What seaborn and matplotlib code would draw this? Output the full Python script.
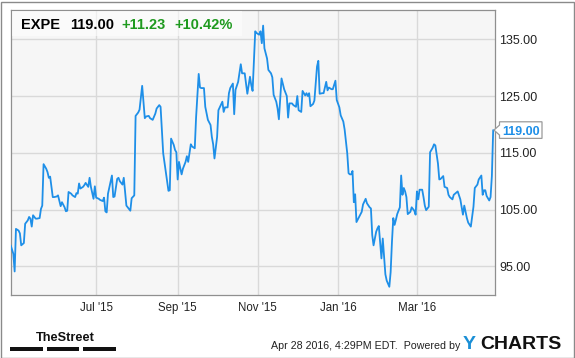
import matplotlib
matplotlib.use("Agg")
import matplotlib.pyplot as plt
import matplotlib.dates as mdates
from matplotlib.patches import Rectangle, Polygon
from matplotlib.transforms import IdentityTransform
import numpy as np
import pandas as pd
import seaborn as sns

# ---------------- data ----------------
ticker = "EXPE"
last_price_text = "119.00"
change_text = "+11.23"
change_pct_text = "+10.42%"
start_date = "2015-04-27"

day_offsets = [
    0, 2, 3, 4, 6, 7, 8, 10, 11, 13, 14, 15, 16, 17, 19, 20, 22, 23, 24, 25,
    27, 28, 29, 30, 32, 33, 35, 36, 38, 39, 41, 42, 43, 44, 46, 47, 49, 50, 51, 52,
    53, 55, 56, 57, 59, 60, 61, 63, 64, 65, 67, 68, 70, 71, 72, 73, 74, 76, 77, 78,
    79, 81, 82, 83, 85, 86, 88, 90, 91,
    92, 94, 95, 97, 98, 100, 102, 103, 105, 106, 108, 110, 111, 113, 114, 116, 118, 120, 121, 122,
    124, 125, 126, 127, 128, 130, 131, 133, 134, 135, 137, 138, 140, 141, 143, 144, 145, 147, 148, 150,
    152, 153, 154, 155, 157, 158, 159, 161, 162, 163, 165, 166, 167, 169, 170, 171, 173, 175, 176, 178,
    180, 181,
    182, 183, 184, 186, 187, 189, 190, 191, 192, 193, 195, 196, 198, 199, 200, 202, 203, 204, 205, 206,
    208, 209, 210, 211, 212, 214, 215, 217, 218, 219, 221, 222, 223, 224, 225, 226, 227, 228, 230, 231,
    233, 234, 235, 237, 238, 240, 241, 242, 244, 245, 247, 248, 250, 251, 253, 254, 256, 257, 258, 259,
    260, 261, 262, 263, 265, 267, 268, 270, 271, 273,
    274, 275, 276, 278, 279, 280, 281, 282, 283, 285, 286, 288, 289, 290, 291, 292, 293, 294, 296, 297,
    298, 299, 300, 301, 302, 304, 305, 307, 308, 309, 310, 311, 313, 314, 315, 316, 318, 319, 321, 322,
    323, 325, 326, 327, 329, 330, 332, 333, 334, 336, 337, 339, 340, 342, 343, 344, 345, 347, 348, 350,
    352, 353, 355, 356, 358, 359, 360, 361, 362, 363, 364, 365, 366, 367,
]

prices = [
    98.7, 97.2, 94.1, 101.6, 101.3, 100.8, 98.7, 99.1, 102.5, 103.1, 103.7, 103.4, 102.0, 104.0, 103.4,
    103.4, 103.5, 105.1, 105.7, 113.0, 112.2, 111.6, 110.6, 110.8, 107.2, 107.2, 107.3, 107.5, 105.6, 106.3,
    105.4, 104.7, 104.8, 108.1, 107.8, 107.5, 107.2, 107.9, 107.8, 109.6, 108.7, 109.0, 109.3, 109.7, 109.0,
    110.6, 109.0, 106.9, 109.1, 107.1, 106.9, 106.7, 106.5, 107.1, 104.7, 104.5, 107.8, 109.9, 111.0, 107.2,
    107.3, 110.4, 110.6, 110.0, 109.4, 110.6, 105.7, 105.1, 104.8,
    107.0, 107.5, 121.5, 122.1, 122.6, 126.8, 121.1, 121.4, 121.5, 121.1, 120.8, 121.9, 122.8, 123.4, 123.1,
    114.9, 111.6, 108.3, 108.4, 117.5, 116.4, 115.5, 115.1, 110.3, 113.4, 111.2, 112.2, 113.4, 114.4, 113.4,
    116.5, 116.1, 115.8, 121.2, 128.9, 126.5, 126.4, 126.4, 123.1, 120.8, 119.9, 117.8, 116.5, 114.0, 117.8,
    122.5, 123.0, 124.0, 122.2, 123.0, 123.0, 125.5, 126.4, 127.2, 121.8, 126.1, 127.5, 130.6, 129.0, 129.0,
    125.4, 126.9,
    128.4, 126.9, 125.9, 136.4, 136.1, 135.8, 136.4, 134.3, 137.4, 133.4, 131.6, 129.6, 129.0, 128.3, 125.2,
    124.0, 122.8, 120.9, 124.6, 128.1, 126.2, 125.6, 125.0, 121.2, 123.7, 123.7, 123.4, 123.1, 125.0, 122.5,
    122.2, 125.9, 125.5, 125.1, 125.5, 125.0, 125.5, 123.2, 123.6, 124.2, 130.2, 131.2, 125.4, 125.5, 125.5,
    127.5, 126.0, 126.5, 126.2, 126.2, 127.7, 124.3, 123.0, 121.6, 120.5, 119.1, 114.9, 111.4, 111.2, 111.2,
    111.8, 106.3, 107.7, 102.8, 103.7, 104.6, 105.9, 106.9, 106.1, 105.4,
    105.2, 100.5, 98.7, 101.1, 101.7, 102.1, 99.3, 96.4, 99.9, 93.6, 92.5, 91.4, 94.0, 99.3, 103.5,
    102.3, 103.2, 104.2, 105.4, 111.0, 107.6, 108.8, 108.2, 107.2, 104.2, 104.6, 105.4, 104.8, 104.1, 108.2,
    106.8, 108.5, 108.5, 107.2, 105.7, 104.9, 105.5, 115.1, 115.9, 116.5, 116.3, 113.1, 110.3, 110.4, 110.9,
    109.0, 108.8, 107.6, 107.2, 106.8, 107.6, 108.0, 108.2, 106.8, 105.5, 104.1, 105.7, 103.5, 102.7, 102.0,
    105.5, 108.8, 109.4, 110.3, 111.0, 107.6, 108.4, 108.4, 107.4, 107.0, 106.6, 107.2, 110.9, 119.0,
]

y_ticks = [95, 105, 115, 125, 135]
x_tick_dates = ["2015-07-01", "2015-09-01", "2015-11-01", "2016-01-01", "2016-03-01"]
x_tick_labels = ["Jul '15", "Sep '15", "Nov '15", "Jan '16", "Mar '16"]
footer_text = "Apr 28 2016, 4:29PM EDT.  Powered by"

# ---------------- style ----------------
sns.set_style("white")
plt.rcParams["font.family"] = ["Liberation Sans", "DejaVu Sans"]

W, H = 575, 358
DPI = 100
LINE_BLUE = "#1e8fe8"
GREEN = "#1f9a1f"

def fx(x):
    return x / W

def fy(y):
    return 1 - y / H

fig = plt.figure(figsize=(W / DPI, H / DPI), dpi=DPI, facecolor="white")

ax_l, ax_r, ax_t, ax_b = 10.7, 494.5, 10.3, 295.3
ax = fig.add_axes([fx(ax_l), fy(ax_b), (ax_r - ax_l) / W, (ax_b - ax_t) / H])
ax.set_facecolor("#f6f6f6")

start = pd.Timestamp(start_date)
df = pd.DataFrame({
    "date": start + pd.to_timedelta(day_offsets, unit="D"),
    "price": prices,
})

sns.lineplot(data=df, x="date", y="price", color=LINE_BLUE, linewidth=1.3, ax=ax, zorder=3)

ax.set_xlim(start, start + pd.Timedelta(days=368))
ax.set_ylim(89.9, 140.1)

ax.set_xlabel("")
ax.set_ylabel("")
ax.set_xticks(pd.to_datetime(x_tick_dates))
ax.set_xticklabels(x_tick_labels)
ax.yaxis.tick_right()
ax.set_yticks(y_ticks)
ax.set_yticklabels([f"{v:.2f}" for v in y_ticks])
ax.tick_params(axis="x", length=0, pad=4.5, labelsize=8.3, colors="#222222")
ax.tick_params(axis="y", length=0, pad=3.6, labelsize=9, colors="#222222")
ax.grid(True, color="#d9d9d9", linewidth=1.0, zorder=0)
ax.set_axisbelow(True)
for s in ax.spines.values():
    s.set_color("#8f8f8f")
    s.set_linewidth(0.9)
    s.set_visible(True)

# header box + texts
ax.add_patch(Rectangle((fx(11.5), fy(36)), fx(242) - fx(11.5), fy(11) - fy(36),
                       transform=fig.transFigure, facecolor="white", alpha=0.55,
                       edgecolor="none", zorder=5))
hdr_base = fy(29.3)
fig.text(fx(21), hdr_base, ticker, fontsize=10.5, fontweight="bold", color="#000000", va="baseline", zorder=6)
fig.text(fx(70), hdr_base, last_price_text, fontsize=10.5, fontweight="bold", color="#000000", va="baseline", zorder=6)
fig.text(fx(121), hdr_base, change_text, fontsize=10.5, fontweight="bold", color=GREEN, va="baseline", zorder=6)
fig.text(fx(174), hdr_base, change_pct_text, fontsize=10.5, fontweight="bold", color=GREEN, va="baseline", zorder=6)

# last value flag
fig.canvas.draw()
last_y_disp = ax.transData.transform((mdates.date2num(df["date"].iloc[-1]), prices[-1]))[1]
tip_x = 494.0
bx0, bx1 = 499.5, 542.0
half = 8.3
flag = Polygon([
    (tip_x, last_y_disp),
    (bx0, last_y_disp + 5),
    (bx0, last_y_disp + half),
    (bx1, last_y_disp + half),
    (bx1, last_y_disp - half),
    (bx0, last_y_disp - half),
    (bx0, last_y_disp - 5),
], closed=True, transform=IdentityTransform(), facecolor="white",
    edgecolor="#9a9a9a", linewidth=0.9, zorder=10)
fig.patches.append(flag)
fig.text((bx0 + bx1) / 2 / W, last_y_disp / H, f"{prices[-1]:.2f}", fontsize=9,
         fontweight="bold", color=LINE_BLUE, ha="center", va="center_baseline", zorder=11)

# footer: TheStreet logo
fig.text(fx(36), fy(341.3), "TheStreet", fontsize=9.2, fontweight="bold",
         color="#111111", va="baseline")
for x0, x1 in [(10.3, 42.7), (46.7, 79.3), (83.3, 115.7)]:
    fig.patches.append(Rectangle((fx(x0), fy(350.7)), fx(x1) - fx(x0), fy(347.3) - fy(350.7),
                                 transform=fig.transFigure, facecolor="#111111", edgecolor="none"))

fig.text(fx(270.7), fy(348.7), footer_text, fontsize=7.7, color="#222222", va="baseline")
fig.text(fx(463), fy(348.7), "Y", fontsize=14, fontweight="bold", color="#1a8fd6", va="baseline")
fig.text(fx(480.5), fy(348.7), "CHARTS", fontsize=14, fontweight="bold", color="#111111", va="baseline")

# outer border
fig.patches.append(Rectangle((0.5, 0.5), W - 2, H - 2, transform=IdentityTransform(),
                             facecolor="none", edgecolor="#8a8a8a", linewidth=1.0))

fig.savefig("out.png", dpi=DPI, facecolor="white")
